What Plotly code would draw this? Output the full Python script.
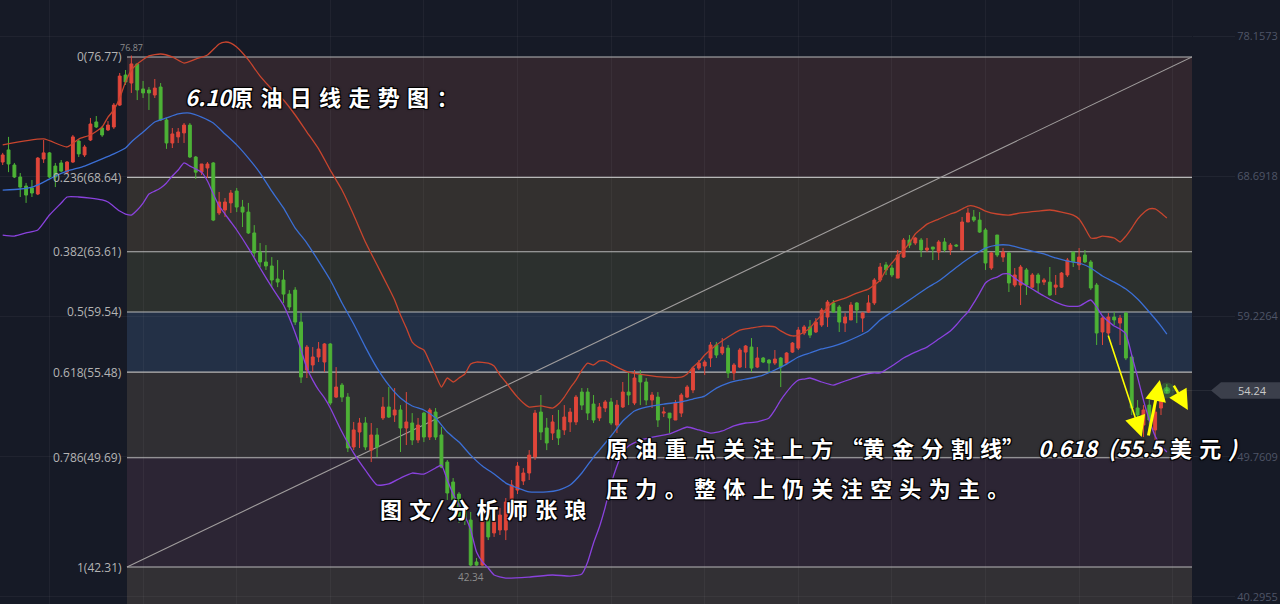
import plotly.graph_objects as go

# ---------------- data ----------------
open_ = [69.67, 70.49, 69.47, 68.66, 68.05, 67.92, 67.51, 69.88, 70.29, 69.40,
         69.61, 68.99, 69.67, 71.09, 70.15, 71.16, 72.38, 71.97, 71.84, 72.04,
         73.52, 75.55, 75.01, 76.30, 74.61, 74.54, 74.20, 74.74, 72.51, 70.96,
         71.37, 71.64, 72.17, 70.01, 68.99, 69.27, 69.61, 66.23, 66.43, 66.91,
         67.71, 66.63, 66.29, 64.88, 63.59, 62.92, 62.65, 61.77, 61.70, 60.75,
         61.02, 58.86, 55.62, 55.96, 56.50, 56.16, 57.38, 53.79, 54.60, 53.79,
         50.42, 51.43, 52.04, 50.21, 51.23, 52.38, 53.12, 52.58, 52.92, 51.70,
         52.04, 50.89, 52.71, 51.09, 52.78, 51.23, 49.40, 48.05, 47.24, 46.16,
         45.48, 42.65, 42.44, 45.82, 44.61, 44.81, 44.81, 46.84, 47.51, 48.12,
         48.66, 49.74, 52.78, 51.70, 51.36, 51.57, 51.57, 52.11, 52.11, 54.13,
         54.13, 53.32, 52.38, 53.05, 53.46, 51.90, 53.12, 54.13, 53.39, 55.28,
         54.81, 53.59, 53.79, 52.71, 52.71, 52.24, 52.71, 53.79, 54.27, 55.75,
         55.89, 56.43, 57.31, 56.77, 57.10, 55.42, 55.82, 56.83, 57.17, 55.82,
         56.43, 56.29, 56.09, 56.43, 56.09, 56.83, 57.10, 58.12, 58.53, 58.19,
         58.66, 59.20, 60.15, 59.88, 58.79, 59.00, 60.15, 59.13, 59.54, 60.15,
         61.70, 62.72, 62.51, 61.83, 63.25, 64.40, 64.20, 64.40, 63.73, 63.93,
         63.59, 64.27, 63.73, 64.06, 63.73, 65.62, 65.96, 65.75, 65.08, 62.51,
         64.74, 63.25, 63.53, 61.36, 61.36, 62.38, 61.22, 62.04, 61.56, 61.56,
         61.22, 61.22, 62.04, 63.59, 62.72, 63.39, 62.92, 61.36, 58.19, 58.12,
         59.20, 58.79, 59.47, 56.50, 53.05, 51.90, 53.25, 51.57, 53.05, 54.27]

high = [70.29, 71.37, 69.61, 68.93, 68.26, 68.46, 70.01, 71.16, 70.35, 69.61,
        69.81, 69.74, 71.50, 71.23, 70.83, 72.65, 72.78, 72.11, 72.44, 73.66,
        75.69, 75.89, 76.87, 76.36, 75.15, 74.74, 75.28, 75.01, 72.65, 71.97,
        71.97, 72.31, 72.31, 70.08, 69.54, 69.67, 69.67, 67.65, 67.24, 67.78,
        67.92, 67.11, 66.91, 65.41, 64.20, 64.06, 63.25, 63.05, 62.38, 61.02,
        61.22, 59.47, 57.31, 57.17, 57.51, 57.44, 57.44, 55.82, 54.74, 54.06,
        52.11, 52.38, 52.44, 52.04, 51.70, 53.79, 54.47, 54.40, 53.25, 54.13,
        52.71, 52.38, 52.78, 53.05, 53.05, 51.77, 49.54, 48.32, 47.38, 46.50,
        46.03, 42.92, 45.82, 46.84, 45.69, 46.30, 46.97, 48.19, 49.40, 48.99,
        50.21, 52.92, 53.93, 52.38, 52.58, 52.92, 53.25, 53.05, 53.93, 54.40,
        54.40, 53.93, 53.39, 53.59, 53.73, 53.59, 54.81, 55.42, 55.62, 55.62,
        55.08, 54.13, 54.13, 53.12, 52.71, 53.59, 54.06, 54.60, 55.82, 56.29,
        56.29, 57.51, 57.51, 57.78, 57.31, 56.09, 57.10, 57.31, 57.78, 57.17,
        56.50, 56.36, 56.97, 56.50, 56.83, 57.51, 58.53, 58.66, 59.00, 59.13,
        59.81, 60.35, 60.35, 60.01, 59.47, 60.21, 60.21, 59.54, 60.68, 61.83,
        62.85, 62.92, 62.72, 63.73, 64.54, 64.74, 64.61, 64.54, 64.54, 63.93,
        64.40, 64.54, 64.20, 64.13, 65.96, 66.56, 66.43, 66.29, 65.21, 63.59,
        64.74, 63.86, 63.59, 62.51, 62.72, 62.51, 62.17, 62.17, 61.83, 62.58,
        62.04, 62.24, 63.19, 63.59, 63.86, 63.73, 63.05, 61.50, 59.20, 59.47,
        59.54, 59.34, 59.54, 56.63, 53.59, 53.25, 53.59, 53.25, 54.40, 54.67]

low = [69.47, 68.99, 68.59, 67.31, 66.91, 67.31, 67.44, 69.61, 68.59, 67.98,
       68.99, 68.86, 69.61, 70.01, 70.01, 71.09, 71.97, 71.37, 71.77, 71.91,
       73.46, 74.88, 74.34, 73.86, 74.00, 73.19, 74.00, 72.44, 70.56, 70.62,
       70.96, 70.96, 69.94, 68.53, 68.79, 68.59, 65.68, 66.09, 65.96, 66.23,
       66.29, 65.28, 64.81, 63.25, 62.58, 62.38, 61.22, 61.22, 60.15, 59.67,
       58.66, 54.74, 55.08, 55.48, 56.16, 55.48, 53.25, 53.73, 53.46, 50.08,
       50.21, 50.35, 50.21, 49.40, 49.74, 52.24, 52.38, 52.11, 50.08, 50.55,
       50.55, 50.69, 50.75, 50.89, 50.89, 48.99, 46.84, 46.30, 45.28, 45.15,
       42.34, 42.40, 42.40, 44.13, 44.34, 44.47, 44.13, 46.50, 47.24, 47.85,
       48.19, 49.54, 50.89, 50.21, 50.89, 50.55, 51.23, 51.43, 51.90, 52.92,
       52.24, 52.04, 52.17, 52.78, 51.90, 51.36, 53.05, 53.25, 53.25, 53.25,
       53.25, 53.05, 51.77, 52.44, 51.36, 52.24, 52.44, 53.73, 54.06, 55.62,
       55.28, 55.82, 56.43, 56.63, 55.08, 54.94, 55.75, 55.75, 55.48, 55.75,
       56.09, 55.42, 55.96, 54.47, 55.96, 56.77, 56.97, 57.98, 57.78, 58.12,
       58.53, 58.53, 59.47, 58.19, 58.19, 59.00, 58.79, 58.19, 59.47, 60.01,
       61.56, 62.04, 61.90, 61.83, 63.19, 63.86, 64.06, 63.25, 63.59, 63.05,
       63.05, 63.59, 63.39, 63.93, 63.73, 65.62, 65.62, 64.88, 62.38, 62.38,
       63.25, 62.92, 60.89, 61.22, 60.01, 60.69, 61.16, 60.89, 61.36, 60.62,
       60.69, 61.16, 61.90, 62.58, 62.38, 62.85, 61.02, 57.31, 57.31, 57.98,
       58.66, 57.31, 56.29, 52.58, 51.57, 51.09, 51.43, 50.89, 52.58, 54.06]

close = [70.15, 69.54, 68.66, 67.98, 67.44, 67.58, 69.94, 70.29, 68.66, 68.66,
         69.06, 69.67, 71.37, 70.22, 70.69, 72.24, 72.04, 71.50, 72.17, 73.52,
         75.48, 75.08, 76.30, 74.54, 74.34, 74.34, 74.67, 72.51, 70.96, 71.57,
         71.70, 72.17, 70.01, 68.99, 69.54, 69.54, 65.75, 66.97, 66.97, 67.58,
         66.63, 66.29, 64.88, 63.53, 62.92, 62.65, 61.70, 61.56, 60.75, 59.88,
         58.86, 55.14, 57.17, 56.50, 57.04, 57.38, 53.39, 54.47, 53.79, 50.35,
         51.57, 52.04, 50.42, 51.23, 50.42, 53.12, 52.44, 52.92, 51.70, 52.11,
         50.89, 51.90, 51.09, 52.92, 51.09, 49.06, 47.31, 46.84, 45.75, 45.48,
         42.44, 42.44, 45.62, 44.34, 45.48, 45.82, 46.70, 47.85, 49.13, 48.66,
         49.87, 52.71, 51.43, 50.69, 52.11, 51.03, 52.44, 52.78, 53.79, 53.25,
         52.71, 52.24, 53.12, 53.46, 52.04, 53.25, 54.13, 53.93, 55.08, 54.81,
         53.59, 53.93, 52.24, 52.78, 52.38, 53.39, 53.93, 54.47, 55.75, 56.09,
         56.16, 57.31, 56.63, 57.17, 55.42, 55.96, 56.97, 57.24, 55.75, 56.43,
         56.16, 56.09, 56.36, 55.82, 56.77, 57.44, 58.32, 58.53, 57.98, 58.86,
         59.67, 60.21, 59.54, 58.86, 59.20, 60.01, 59.67, 59.47, 60.15, 61.70,
         62.58, 62.38, 62.04, 63.39, 64.40, 64.06, 64.54, 63.73, 63.86, 63.79,
         64.27, 63.73, 64.06, 64.00, 65.62, 66.23, 65.75, 64.94, 62.85, 63.53,
         63.39, 63.59, 61.50, 62.04, 62.58, 61.36, 62.04, 61.50, 61.70, 60.69,
         61.36, 62.17, 63.05, 62.92, 63.25, 62.92, 61.16, 58.12, 59.13, 59.20,
         59.00, 59.13, 56.43, 53.05, 52.58, 52.92, 52.24, 52.78, 54.06, 54.24]

bar_index = list(range(len(close)))

# Bollinger bands, read at sampled bars
upper_idx = [0, 7, 11, 13, 15, 17, 18, 19, 20, 21, 22, 23, 25, 27, 29, 31, 33, 35, 37, 38,
             39, 40, 42, 44, 46, 48, 50, 52, 54, 56, 58, 60, 62, 64, 66, 67, 68, 69, 70, 71,
             72, 73, 74, 75, 76, 77, 78, 79, 80, 81, 83, 84, 85, 86, 87, 88, 89, 90, 92, 94,
             95, 96, 97, 98, 99, 100, 101, 102, 103, 104, 105, 107, 110, 113, 116, 117, 118, 119, 120, 122,
             124, 126, 128, 130, 132, 133, 134, 135, 136, 137, 138, 139, 140, 141, 142, 144, 146, 148, 149, 150,
             151, 152, 153, 154, 155, 156, 157, 158, 160, 162, 163, 164, 165, 166, 167, 168, 170, 172, 174, 177,
             179, 181, 183, 184, 185, 186, 187, 188, 190, 191, 192, 193, 194, 195, 196, 197, 198, 199]
upper_val = [70.83, 71.23, 70.69, 71.23, 71.50, 72.04, 72.71, 73.19, 74.00, 75.08,
             75.89, 76.30, 76.84, 76.97, 76.77, 76.36, 76.63, 76.90, 77.65, 77.78,
             77.71, 77.44, 76.57, 75.48, 74.61, 73.86, 72.85, 71.70, 70.56, 69.13,
             67.78, 66.09, 64.27, 62.71, 61.16, 60.35, 59.34, 58.46, 57.51, 57.17,
             56.97, 56.16, 55.28, 54.47, 55.08, 54.81, 55.08, 55.35, 56.02, 56.16,
             56.09, 55.89, 55.28, 54.81, 54.27, 53.79, 53.39, 53.12, 53.19, 53.05,
             53.32, 53.79, 54.40, 54.94, 55.62, 56.09, 55.96, 56.23, 56.23, 56.02,
             55.82, 55.48, 55.28, 55.14, 55.14, 55.35, 55.82, 56.16, 56.63, 57.31,
             57.85, 58.32, 58.46, 58.59, 58.53, 58.26, 58.05, 57.92, 57.98, 58.19,
             58.46, 58.93, 59.34, 59.88, 60.21, 60.48, 60.82, 61.09, 61.36, 61.70,
             62.38, 62.85, 63.32, 63.73, 64.20, 64.81, 65.15, 65.48, 65.82, 66.16,
             66.29, 66.50, 66.70, 66.70, 66.56, 66.36, 66.16, 66.09, 66.23, 66.36,
             66.43, 66.29, 66.09, 65.82, 65.21, 64.54, 64.54, 64.67, 64.54, 64.27,
             64.67, 65.21, 65.82, 66.23, 66.50, 66.50, 66.23, 65.89]

mid_idx = [0, 3, 5, 7, 9, 11, 14, 17, 19, 21, 22, 24, 26, 28, 30, 32, 34, 36, 38, 40,
           42, 44, 46, 48, 50, 52, 54, 56, 58, 60, 62, 64, 66, 68, 70, 72, 74, 76, 78, 80,
           82, 84, 86, 88, 90, 93, 95, 97, 99, 101, 102, 104, 106, 108, 110, 113, 116, 118, 120, 122,
           124, 126, 128, 130, 132, 134, 136, 138, 140, 142, 144, 146, 148, 150, 152, 154, 156, 158, 160, 162,
           164, 166, 168, 170, 172, 174, 176, 178, 180, 182, 184, 186, 188, 190, 192, 194, 196, 198, 199]
mid_val = [67.78, 67.85, 67.98, 68.32, 68.73, 69.06, 69.40, 69.88, 70.22, 70.62,
           71.03, 71.70, 72.38, 72.65, 72.92, 72.98, 72.71, 72.31, 71.57, 70.83,
           69.94, 68.93, 67.71, 66.57, 65.21, 64.20, 62.98, 61.70, 60.15, 58.73,
           57.17, 55.75, 54.60, 53.73, 53.19, 52.92, 52.38, 51.43, 50.75, 49.87,
           49.13, 48.59, 47.98, 47.65, 47.38, 47.38, 47.51, 47.85, 48.66, 49.74,
           50.21, 51.16, 52.17, 52.85, 53.12, 53.32, 53.46, 53.66, 53.86, 54.40,
           54.74, 54.94, 55.08, 55.28, 55.62, 56.02, 56.50, 56.77, 57.04, 57.24,
           57.51, 57.85, 58.26, 59.00, 59.54, 60.08, 60.62, 61.16, 61.63, 62.24,
           62.85, 63.39, 63.86, 64.06, 64.06, 63.86, 63.66, 63.46, 63.19, 62.98,
           62.85, 62.51, 61.97, 61.56, 61.09, 60.42, 59.54, 58.59, 58.05]

lower_idx = [0, 2, 4, 6, 8, 10, 11, 13, 15, 17, 18, 20, 21, 22, 23, 24, 25, 26, 27, 28,
             29, 30, 31, 32, 33, 34, 35, 36, 37, 38, 39, 40, 42, 44, 46, 48, 49, 50, 51, 52,
             53, 54, 55, 56, 58, 60, 62, 64, 66, 68, 70, 72, 74, 75, 76, 77, 78, 79, 80, 81,
             82, 83, 84, 86, 90, 94, 97, 99, 100, 101, 102, 103, 104, 105, 106, 107, 109, 112, 114, 116,
             117, 119, 121, 123, 125, 127, 129, 131, 132, 133, 134, 135, 136, 137, 138, 140, 142, 143, 145, 147,
             149, 150, 152, 154, 156, 158, 160, 162, 163, 164, 165, 166, 167, 168, 169, 170, 171, 172, 173, 174,
             176, 178, 180, 182, 184, 186, 187, 188, 190, 191, 192, 193, 194, 195, 196, 197, 198, 199]
lower_val = [64.74, 64.67, 64.88, 65.08, 66.09, 66.90, 67.31, 67.31, 67.24, 67.11,
             66.97, 66.36, 66.16, 66.09, 66.43, 66.90, 67.51, 67.71, 67.92, 68.26,
             68.73, 69.13, 69.61, 69.40, 69.20, 68.99, 68.39, 67.51, 66.70, 66.16,
             65.62, 65.08, 63.86, 62.51, 61.22, 60.01, 59.13, 58.12, 56.97, 55.75,
             54.94, 54.27, 53.73, 53.05, 51.43, 50.01, 48.86, 47.85, 47.92, 48.32,
             48.66, 48.59, 49.00, 49.20, 48.19, 47.24, 46.50, 45.75, 44.81, 43.32,
             42.65, 42.24, 41.77, 41.56, 41.63, 41.77, 41.70, 41.84, 42.65, 43.93,
             45.01, 46.36, 47.92, 49.13, 50.08, 50.49, 50.89, 51.16, 51.30, 51.63,
             51.77, 51.57, 51.36, 51.50, 51.84, 52.04, 52.11, 52.38, 52.92, 53.59,
             54.13, 54.60, 54.94, 55.01, 55.08, 54.81, 54.60, 54.74, 55.01, 55.28,
             55.42, 55.42, 55.89, 56.43, 56.83, 57.17, 57.71, 58.26, 58.66, 59.13,
             59.54, 60.15, 60.82, 61.50, 61.77, 61.90, 62.11, 62.11, 61.83, 61.56,
             61.09, 60.62, 60.21, 59.94, 59.94, 60.35, 59.88, 59.27, 58.59, 58.39,
             58.05, 56.63, 55.14, 53.59, 52.24, 51.16, 50.49, 50.08]

fib_ratios = ["0", "0.236", "0.382", "0.5", "0.618", "0.786", "1"]
fib_prices = [76.77, 68.64, 63.61, 59.54, 55.48, 49.69, 42.31]
fib_start = 21.25            # bar where the Fibonacci tool is anchored
axis_ticks = [78.1573, 68.6918, 59.2264, 49.7609, 40.2955]
high_mark = (22, 76.87)
low_mark = (80, 42.34)

# ---------------- style ----------------
BG = "#161a26"
RED = "#e0463a"
GREEN = "#4db236"
X_RANGE = [-0.46, 203.3]
Y_RANGE = [39.81, 80.62]
PLOT_W = 1192
zone_colors = ["#31262e", "#33302f", "#2c302e", "#233046", "#302f33", "#2c2534", "#323034"]
CJK = "Noto Sans CJK SC"

fig = go.Figure()

fig.add_trace(go.Scatter(x=upper_idx, y=upper_val, mode="lines", hoverinfo="skip",
                         line=dict(color="#c9452e", width=1.3, shape="spline", smoothing=0.5)))
fig.add_trace(go.Scatter(x=mid_idx, y=mid_val, mode="lines", hoverinfo="skip",
                         line=dict(color="#3b6fd6", width=1.3, shape="spline", smoothing=0.5)))
fig.add_trace(go.Scatter(x=lower_idx, y=lower_val, mode="lines", hoverinfo="skip",
                         line=dict(color="#8a42de", width=1.3, shape="spline", smoothing=0.5)))

fig.add_trace(go.Candlestick(
    x=bar_index, open=open_, high=high, low=low, close=close,
    increasing=dict(line=dict(color=RED, width=1), fillcolor=RED),
    decreasing=dict(line=dict(color=GREEN, width=1), fillcolor=GREEN),
    whiskerwidth=0, hoverinfo="skip"))

# glow on the last bar
fig.add_trace(go.Scatter(x=[bar_index[-1]], y=[close[-1]], mode="markers", hoverinfo="skip",
                         marker=dict(size=16, color="rgba(80,220,80,0.18)", line=dict(width=0))))
fig.add_trace(go.Scatter(x=[bar_index[-1]], y=[close[-1]], mode="markers", hoverinfo="skip",
                         marker=dict(size=7, color="rgba(80,220,80,0.55)", line=dict(width=0))))

shapes = []
levels = fib_prices + [Y_RANGE[0]]
for k in range(len(fib_prices)):
    shapes.append(dict(type="rect", xref="x", yref="y", x0=fib_start, x1=X_RANGE[1],
                       y0=levels[k + 1], y1=levels[k], fillcolor=zone_colors[k],
                       line=dict(width=0), layer="below"))
for p in fib_prices:
    shapes.append(dict(type="line", xref="x", yref="y", x0=fib_start, x1=X_RANGE[1],
                       y0=p, y1=p, line=dict(color="#b7b7b7", width=1.2), layer="between"))
shapes.append(dict(type="line", xref="x", yref="y", x0=fib_start, y0=fib_prices[-1],
                   x1=X_RANGE[1], y1=fib_prices[0], line=dict(color="#a09d9d", width=1.1),
                   layer="between"))
# last price marker on the axis
lp = close[-1]
px = lambda v: v / PLOT_W
shapes.append(dict(type="line", xref="paper", yref="y", x0=px(1172), x1=px(1212), y0=lp, y1=lp,
                   line=dict(color="rgba(255,255,255,0.08)", width=1)))
shapes.append(dict(type="path", xref="paper", yref="y",
                   path=f"M {px(1211)},{lp} L {px(1221)},{lp+0.56} L {px(1280)},{lp+0.56} "
                        f"L {px(1280)},{lp-0.56} L {px(1221)},{lp-0.56} Z",
                   fillcolor="#3b3f4b", line=dict(width=0)))

ann = []
for r, p in zip(fib_ratios, fib_prices):
    ann.append(dict(x=fib_start, y=p, xref="x", yref="y", text=f"{r}({p:.2f})",
                    showarrow=False, xanchor="right", yanchor="middle", xshift=-3,
                    font=dict(family="Open Sans", size=12, color="#b4b4b4")))
ann.append(dict(x=high_mark[0], y=high_mark[1], xref="x", yref="y", text=f"{high_mark[1]:.2f}",
                showarrow=False, yanchor="bottom", yshift=0,
                font=dict(family="Open Sans", size=9, color="#8c8c8c")))
ann.append(dict(x=low_mark[0], y=low_mark[1], xref="x", yref="y", text=f"{low_mark[1]:.2f}",
                showarrow=False, yanchor="top", yshift=-1,
                font=dict(family="Open Sans", size=10, color="#8c8c8c")))
ann.append(dict(x=px(1252), y=lp, xref="paper", yref="y", text=f"{lp:.2f}", showarrow=False,
                xanchor="center", yanchor="middle",
                font=dict(family="Open Sans", size=11, color="#c9c9c9")))

# yellow arrows (head x,y ; tail ax,ay)
arrows = [((194.7, 51.09), (188.9, 58.05), 1.6, 2.6),
          ((197.8, 54.94), (195.8, 51.09), 3.0, 1.4),
          ((202.6, 52.92), (200.05, 54.67), 2.5, 1.6)]
for (hx, hy), (tx, ty), w, s in arrows:
    ann.append(dict(x=hx, y=hy, ax=tx, ay=ty, xref="x", yref="y", axref="x", ayref="y",
                    text="", showarrow=True, arrowhead=2, arrowsize=s, arrowwidth=w,
                    arrowcolor="#ffff00"))

shadow = "1px 1px 0 #000, -1px -1px 0 #000, 1px -1px 0 #000, -1px 1px 0 #000, 0 0 3px #000"
en = "\u2002"
th = "\u2004"
title_txt = "<i>6.10</i>" + th.join("原油日线走势图：")
line1a = th.join("原油重点关注上方") + th + "“" + th.join("黄金分割线") + "”"
line1b = "<i>0.618" + en + "(55.5</i>" + th + "美" + th + "元" + th + "<i>)</i>"
line2 = th.join("压力。整体上仍关注空头为主。")
author = th.join("图文") + "<i>/</i>" + th + th.join("分析师张琅")
for txt, x, y in [(title_txt, 183, 96), (line1a, 604, 447), (line1b, 1036, 447),
                  (line2, 604, 487), (author, 378, 508)]:
    ann.append(dict(x=px(x), y=1 - y / 604, xref="paper", yref="paper", text=txt,
                    showarrow=False, xanchor="left", yanchor="middle",
                    font=dict(family=CJK, size=22, color="#ffffff", weight="bold", shadow=shadow)))

fig.update_layout(
    width=1280, height=604, autosize=False,
    margin=dict(l=0, r=88, t=0, b=0),
    paper_bgcolor=BG, plot_bgcolor=BG,
    showlegend=False, shapes=shapes, annotations=ann,
    xaxis=dict(range=X_RANGE, showticklabels=False, zeroline=False, showline=False,
               tickvals=list(range(8, 204, 16)), showgrid=True,
               gridcolor="rgba(255,255,255,0.045)", rangeslider=dict(visible=False),
               fixedrange=True),
    yaxis=dict(range=Y_RANGE, side="right", tickvals=axis_ticks,
               ticktext=[f"{v:.4f}" for v in axis_ticks], showgrid=True,
               gridcolor="rgba(255,255,255,0.045)", zeroline=False, showline=False,
               ticks="outside", ticklen=42, tickcolor="rgba(255,255,255,0.05)",
               tickfont=dict(family="Open Sans", size=11, color="#4f5566"), fixedrange=True),
)

fig.write_html("out.html", config={"displayModeBar": False, "staticPlot": True},
               post_script="document.body.style.margin='0';document.body.style.overflow='hidden';"
                           f"document.body.style.background='{BG}';")
